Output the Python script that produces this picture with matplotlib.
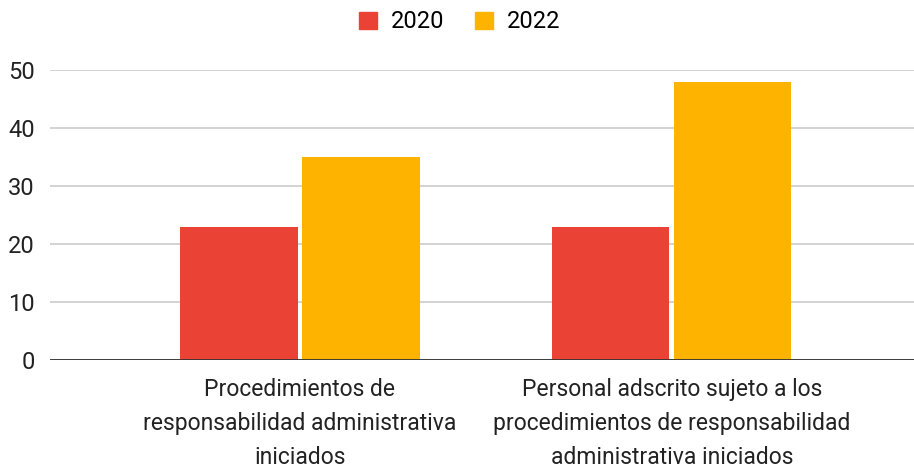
import matplotlib
matplotlib.use('Agg')
import matplotlib.pyplot as plt
from matplotlib.patches import Patch
import numpy as np

categories = [
    "Procedimientos de\nresponsabilidad administrativa\niniciados",
    "Personal adscrito sujeto a los\nprocedimientos de responsabilidad\nadministrativa iniciados",
]
series_names = ["2020", "2022"]
values_2020 = [23, 23]
values_2022 = [35, 48]
y_ticks = [0, 10, 20, 30, 40, 50]

colors = ["#EA4335", "#FDB300"]

plt.rcParams['font.family'] = ['Roboto', 'DejaVu Sans']

fig = plt.figure(figsize=(9.14, 4.71), dpi=100)
ax = fig.add_axes([50 / 914, 1 - 360 / 471, 864 / 914, 290 / 471])

x = np.arange(len(categories))
w = 0.315
gap = 0.0065
ax.bar(x - w / 2 - gap, values_2020, width=w, color=colors[0], zorder=3)
ax.bar(x + w / 2 + gap, values_2022, width=w, color=colors[1], zorder=3)

ax.set_xlim(-0.672, 1.651)
ax.set_ylim(0, 50)
ax.set_yticks(y_ticks)
ax.set_yticklabels([str(t) for t in y_ticks], fontsize=17, color="#222222")
ax.set_xticks(x)
ax.set_xticklabels(categories, fontsize=16.5, color="#222222", linespacing=1.6)

ax.yaxis.grid(True, color="#CCCCCC", linewidth=1.2, zorder=0)
ax.axhline(0, color="#333333", linewidth=1.3, zorder=4)
for s in ax.spines.values():
    s.set_visible(False)
ax.tick_params(axis='both', length=0)
ax.tick_params(axis='y', pad=11)
ax.tick_params(axis='x', pad=13)

handles = [Patch(color=c) for c in colors]
fig.legend(handles, series_names, loc='center', bbox_to_anchor=(460 / 914, 1 - 22 / 471),
           ncol=2, frameon=False, fontsize=17, handlelength=0.75, handleheight=0.75,
           handletextpad=0.6, columnspacing=1.3)

fig.savefig("out.png", dpi=100)
